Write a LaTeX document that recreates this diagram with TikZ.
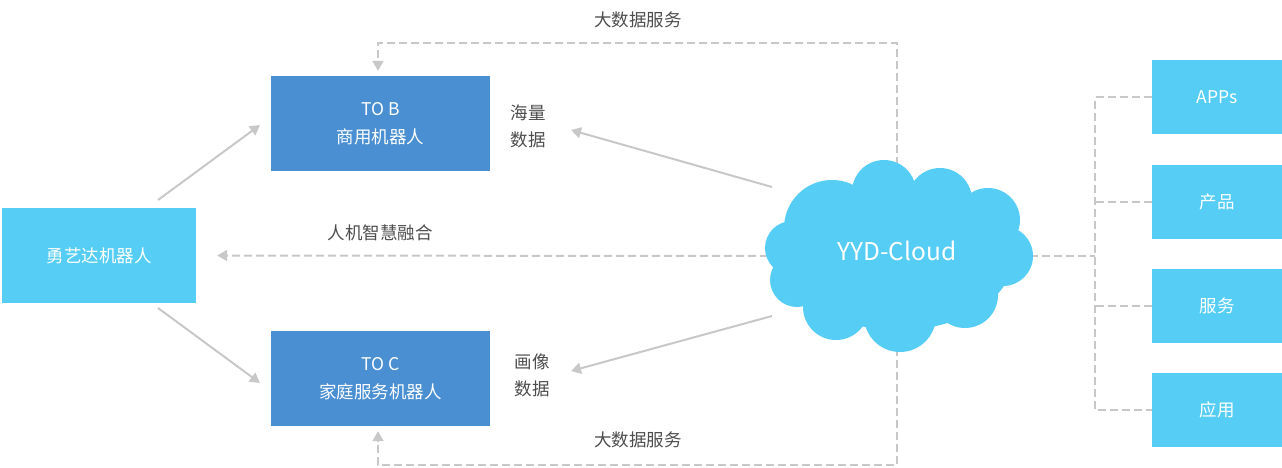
\documentclass[tikz,border=0pt]{standalone}
\usepackage{fontspec}
\setmainfont{Noto Sans CJK SC}
\usetikzlibrary{arrows.meta}
\definecolor{darkbox}{RGB}{74,143,210}
\definecolor{lightbox}{RGB}{85,205,245}
\definecolor{linegray}{RGB}{200,200,200}
\definecolor{labelgray}{RGB}{77,77,77}
\begin{document}
\begin{tikzpicture}[x=1pt,y=-1pt,
  box/.style={rectangle, inner sep=0pt, text=white, font=\fontsize{17.5}{28}\selectfont, align=center},
  darkb/.style={box, fill=darkbox, minimum width=219pt, minimum height=95pt},
  mainb/.style={box, fill=lightbox, minimum width=194pt, minimum height=95pt},
  sideb/.style={box, fill=lightbox, minimum width=130pt, minimum height=74pt},
  conn/.style={draw=linegray, line width=2pt},
  dashconn/.style={conn, dash pattern=on 8pt off 4pt},
  tip/.style={-{Triangle[length=10pt,width=11pt]}},
  lbl/.style={text=labelgray, font=\fontsize{17.5}{27}\selectfont, align=center},
  puff/.style={fill=lightbox}]
\useasboundingbox (0,0) rectangle (1282,468);

% boxes
\node[mainb] (yyd) at (99,255.5) {勇艺达机器人};
\node[darkb] (tob) at (380.5,123.5) {TO B\\商用机器人};
\node[darkb] (toc) at (380.5,378.5) {TO C\\家庭服务机器人};
\node[sideb] (apps) at (1217,97.5) {APPs};
\node[sideb] (prod) at (1217,201.5) {产品};
\node[sideb] (serv) at (1217,305.5) {服务};
\node[sideb] (appl) at (1217,409.5) {应用};

% labels
\node[lbl] (hl) at (528,126) {海量\\数据};
\node[lbl] (hx) at (532,375) {画像\\数据};
\node[lbl] (fusion) at (380,233) {人机智慧融合};
\node[lbl] (bdtop) at (638,20) {大数据服务};
\node[lbl] (bdbot) at (638,440) {大数据服务};

% connector end points
\coordinate (cloudL) at (768,256);
\coordinate (cloudR) at (1030,256);
\coordinate (cloudT) at (897,165);
\coordinate (cloudB) at (897,348);
\coordinate (cloudUL) at (772,187);
\coordinate (cloudLL) at (772,316);
\coordinate (topL) at (378,43);
\coordinate (botL) at (378,465);
\coordinate (yydNE) at (158,200);
\coordinate (yydSE) at (158,308);
\coordinate (tobW) at (260,125);
\coordinate (tocW) at (260,383);
\coordinate (hlE) at (571,130);
\coordinate (hxE) at (571,371);
\coordinate (bus) at (1095,256);

% connectors
\draw[conn,tip] (yydNE) -- (tobW);
\draw[conn,tip] (yydSE) -- (tocW);
\draw[conn,tip] (cloudUL) -- (hlE);
\draw[conn,tip] (cloudLL) -- (hxE);
\draw[dashconn,tip,shorten >=21pt] (cloudL) -- (yyd.east);
\draw[dashconn,tip,shorten >=5pt] (cloudT) |- (topL) -- (topL |- tob.north);
\draw[dashconn,tip,shorten >=5pt] (cloudB) |- (botL) -- (botL |- toc.south);
\draw[dashconn] (cloudR) -- (bus);
\draw[dashconn] (apps.west) -- (apps.west -| bus) -- (appl.west -| bus) -- (appl.west);
\draw[dashconn] (prod.west) -- (prod.west -| bus);
\draw[dashconn] (serv.west) -- (serv.west -| bus);

% cloud
\fill[puff] (898,258) ellipse [x radius=115pt, y radius=72pt];
\fill[puff] (832,228) circle [radius=48pt];
\fill[puff] (884,192) circle [radius=32pt];
\fill[puff] (940,200) circle [radius=32pt];
\fill[puff] (988,220) circle [radius=32pt];
\fill[puff] (1003,256) circle [radius=30pt];
\fill[puff] (965,295) circle [radius=33pt];
\fill[puff] (900,316) circle [radius=36pt];
\fill[puff] (836,307) circle [radius=33pt];
\fill[puff] (797,280) circle [radius=27pt];
\fill[puff] (792,248) circle [radius=27pt];
\node[text=white, font=\fontsize{24.5}{28}\selectfont] (cloud) at (897,251) {YYD-Cloud};
\end{tikzpicture}
\end{document}
